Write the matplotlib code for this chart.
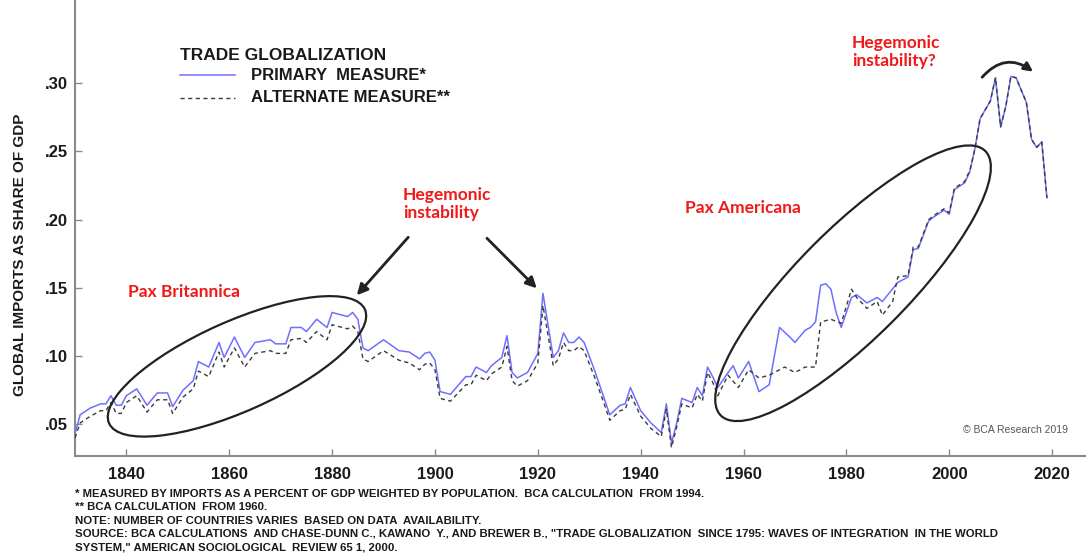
import matplotlib
matplotlib.use("Agg")
import matplotlib.pyplot as plt
from matplotlib.patches import Ellipse
from matplotlib.lines import Line2D
from matplotlib.transforms import ScaledTranslation

# trade globalization: imports as a share of GDP
years_primary = [1830, 1831, 1833, 1835, 1836, 1837, 1838, 1839, 1840, 1842,
                 1844, 1846, 1848, 1849, 1851, 1853, 1854, 1856, 1858, 1859,
                 1861, 1863, 1865, 1868, 1869, 1871, 1872, 1874, 1875, 1877,
                 1879, 1880, 1883, 1884, 1885, 1886, 1887, 1890, 1893, 1895,
                 1897, 1898, 1899, 1900, 1901, 1903, 1906, 1907, 1908, 1910,
                 1911, 1913, 1914, 1915, 1916, 1918, 1920, 1921, 1923, 1924,
                 1925, 1926, 1927, 1928, 1929, 1931, 1933, 1934, 1936, 1937,
                 1938, 1940, 1942, 1944, 1945, 1946, 1947, 1948, 1950, 1951,
                 1952, 1953, 1954, 1955, 1957, 1958, 1959, 1961, 1962, 1963,
                 1965, 1967, 1969, 1970, 1972, 1973, 1974, 1975, 1976, 1977,
                 1978, 1979, 1981, 1982, 1984, 1986, 1987, 1990, 1992, 1993,
                 1994, 1996, 1997, 1999, 2000, 2001, 2003, 2004, 2005, 2006,
                 2008, 2009, 2010, 2011, 2012, 2013, 2015, 2016, 2017, 2018,
                 2019]
primary = [0.043, 0.057, 0.062, 0.065, 0.065, 0.071, 0.064, 0.064, 0.071, 0.076,
           0.064, 0.073, 0.073, 0.063, 0.075, 0.082, 0.096, 0.092, 0.110, 0.099,
           0.114, 0.099, 0.110, 0.112, 0.109, 0.109, 0.121, 0.121, 0.118, 0.127,
           0.121, 0.132, 0.129, 0.132, 0.127, 0.106, 0.104, 0.112, 0.104, 0.103,
           0.098, 0.102, 0.103, 0.097, 0.074, 0.072, 0.085, 0.085, 0.092, 0.088,
           0.093, 0.099, 0.115, 0.088, 0.084, 0.088, 0.102, 0.146, 0.099, 0.104,
           0.117, 0.110, 0.110, 0.114, 0.110, 0.090, 0.068, 0.057, 0.064, 0.065,
           0.077, 0.060, 0.051, 0.044, 0.065, 0.036, 0.051, 0.069, 0.066, 0.077,
           0.071, 0.092, 0.085, 0.077, 0.088, 0.093, 0.084, 0.096, 0.085, 0.074,
           0.079, 0.121, 0.114, 0.110, 0.119, 0.121, 0.125, 0.152, 0.153, 0.149,
           0.132, 0.121, 0.143, 0.145, 0.139, 0.143, 0.140, 0.154, 0.158, 0.178,
           0.179, 0.199, 0.202, 0.207, 0.204, 0.222, 0.227, 0.235, 0.252, 0.274,
           0.287, 0.304, 0.268, 0.283, 0.305, 0.304, 0.286, 0.259, 0.253, 0.257,
           0.216]

years_alt = [1830, 1831, 1833, 1835, 1836, 1837, 1838, 1839, 1840, 1842,
             1844, 1846, 1848, 1849, 1851, 1853, 1854, 1856, 1858, 1859,
             1861, 1863, 1865, 1868, 1869, 1871, 1872, 1874, 1875, 1877,
             1879, 1880, 1883, 1884, 1885, 1886, 1887, 1890, 1893, 1895,
             1897, 1898, 1899, 1900, 1901, 1903, 1906, 1907, 1908, 1910,
             1911, 1913, 1914, 1915, 1916, 1918, 1920, 1921, 1923, 1924,
             1925, 1926, 1927, 1928, 1929, 1931, 1933, 1934, 1936, 1937,
             1938, 1940, 1942, 1944, 1945, 1946, 1947, 1948, 1950, 1951,
             1952, 1953, 1954, 1955, 1957, 1959, 1961, 1963, 1965, 1968,
             1970, 1972, 1974, 1975, 1977, 1979, 1981, 1982, 1984, 1986,
             1987, 1989, 1990, 1992, 1993, 1994, 1996, 1997, 1999, 2000,
             2001, 2003, 2004, 2005, 2006, 2008, 2009, 2010, 2011, 2012,
             2013, 2015, 2016, 2017, 2018, 2019]
alternate = [0.040, 0.051, 0.056, 0.060, 0.060, 0.066, 0.058, 0.058, 0.066, 0.071,
             0.059, 0.068, 0.068, 0.058, 0.070, 0.076, 0.089, 0.085, 0.103, 0.092,
             0.106, 0.092, 0.102, 0.104, 0.102, 0.102, 0.112, 0.113, 0.110, 0.118,
             0.112, 0.123, 0.120, 0.122, 0.118, 0.098, 0.096, 0.104, 0.097, 0.095,
             0.090, 0.094, 0.095, 0.090, 0.069, 0.067, 0.079, 0.079, 0.086, 0.082,
             0.087, 0.092, 0.107, 0.082, 0.078, 0.082, 0.095, 0.137, 0.093, 0.098,
             0.110, 0.104, 0.104, 0.107, 0.104, 0.085, 0.064, 0.053, 0.060, 0.061,
             0.072, 0.056, 0.047, 0.041, 0.061, 0.033, 0.048, 0.065, 0.062, 0.072,
             0.067, 0.088, 0.081, 0.071, 0.086, 0.077, 0.090, 0.084, 0.086, 0.092,
             0.088, 0.092, 0.092, 0.125, 0.127, 0.124, 0.149, 0.143, 0.135, 0.140,
             0.130, 0.140, 0.158, 0.159, 0.180, 0.180, 0.200, 0.203, 0.208, 0.205,
             0.223, 0.228, 0.236, 0.252, 0.274, 0.287, 0.304, 0.268, 0.283, 0.305,
             0.304, 0.286, 0.259, 0.253, 0.257, 0.216]

x_ticks = [1840, 1860, 1880, 1900, 1920, 1940, 1960, 1980, 2000, 2020]
y_ticks = [0.05, 0.10, 0.15, 0.20, 0.25, 0.30]
y_tick_labels = [".05", ".10", ".15", ".20", ".25", ".30"]

footnotes = [
    "* MEASURED BY IMPORTS AS A PERCENT OF GDP WEIGHTED BY POPULATION.  BCA CALCULATION  FROM 1994.",
    "** BCA CALCULATION  FROM 1960.",
    "NOTE: NUMBER OF COUNTRIES VARIES  BASED ON DATA  AVAILABILITY.",
    "SOURCE: BCA CALCULATIONS  AND CHASE-DUNN C., KAWANO  Y., AND BREWER B., \"TRADE GLOBALIZATION  SINCE 1795: WAVES OF INTEGRATION  IN THE WORLD",
    "SYSTEM,\" AMERICAN SOCIOLOGICAL  REVIEW 65 1, 2000.",
]

W, H = 1086, 554
plt.rcParams['font.family'] = ['Liberation Sans', 'DejaVu Sans']
RED_FONT = ['Lato', 'DejaVu Sans']


def fx(px):
    return px / W


def fy(py):
    return 1 - py / H


fig = plt.figure(figsize=(W / 100, H / 100), dpi=100)
ax = fig.add_axes([fx(75), fy(456), 1 - fx(75), 456 / H])

ax.plot(years_primary, primary, color='#6f6fff', lw=1.1, zorder=3)
ax.plot(years_alt, alternate, color='#3a3a3a', lw=1.0, ls=(0, (3, 2.5)), zorder=4)

ax.set_xlim(1830, 2026.6)
ax.set_ylim(0.0268, 0.361)
ax.set_xticks(x_ticks)
ax.set_yticks(y_ticks)
ax.set_yticklabels(y_tick_labels)
for s in ['top', 'right']:
    ax.spines[s].set_visible(False)
for s in ['left', 'bottom']:
    ax.spines[s].set_color('#8a8a8a')
    ax.spines[s].set_linewidth(1.5)
ax.tick_params(direction='in', length=5, width=1, color='#8a8a8a',
               labelsize=12, labelcolor='#1a1a1a')
ax.tick_params(axis='x', pad=8)
ax.tick_params(axis='y', pad=5)
for lab in ax.get_xticklabels() + ax.get_yticklabels():
    lab.set_fontweight('bold')

fig.text(fx(20), fy(255), "GLOBAL IMPORTS AS SHARE OF GDP", rotation=90,
         ha='center', va='center', fontsize=11, fontweight='bold', color='#1a1a1a')


# ellipses sized in inches, centred on a data point
def ring(xc, yc, w, h, ang):
    tr = fig.dpi_scale_trans + ScaledTranslation(xc, yc, ax.transData)
    ax.add_patch(Ellipse((0, 0), w, h, angle=ang, transform=tr, fill=False,
                         ec='#222222', lw=1.6, clip_on=False, zorder=5))


ring(1861.5, 0.0925, 2.8, 0.9, 24)
ring(1981.3, 0.1534, 3.74, 1.1, 45)

arrow = dict(arrowstyle='-|>', color='#222222', lw=2.0, mutation_scale=16,
             shrinkA=0, shrinkB=0)
ax.annotate('', xy=(1884.8, 0.1446), xytext=(1894.8, 0.1871), arrowprops=arrow)
ax.annotate('', xy=(1919.8, 0.1497), xytext=(1910.1, 0.1864), arrowprops=arrow)
ax.annotate('', xy=(2016.3, 0.3085), xytext=(2006.4, 0.3044),
            arrowprops=dict(arrowstyle='-|>', color='#222222', lw=2.0,
                            mutation_scale=13, shrinkA=0, shrinkB=0,
                            connectionstyle='arc3,rad=-0.45'))

# red annotations
red = dict(color='#f01818', fontsize=12.5, fontweight='bold', family=RED_FONT,
           ha='left', va='center', linespacing=1.2)
fig.text(fx(128), fy(292), "Pax Britannica", **red)
fig.text(fx(403), fy(204), "Hegemonic\ninstability", **red)
fig.text(fx(685), fy(208), "Pax Americana", **red)
fig.text(fx(852), fy(52), "Hegemonic\ninstability?", **red)

# legend block
fig.text(fx(180), fy(56), "TRADE GLOBALIZATION", fontsize=12.5, fontweight='bold',
         color='#1a1a1a', va='center')
fig.add_artist(Line2D([fx(180), fx(235)], [fy(75), fy(75)], color='#6f6fff',
                      lw=1.1, transform=fig.transFigure))
fig.add_artist(Line2D([fx(180), fx(235)], [fy(98), fy(98)], color='#3a3a3a',
                      lw=1.0, ls=(0, (3, 2.5)), transform=fig.transFigure))
fig.text(fx(251), fy(75), "PRIMARY  MEASURE*", fontsize=12, fontweight='bold',
         color='#1a1a1a', va='center')
fig.text(fx(251), fy(98), "ALTERNATE MEASURE**", fontsize=12, fontweight='bold',
         color='#1a1a1a', va='center')

fig.text(fx(963), fy(430), "\u00a9 BCA Research 2019", fontsize=7.5,
         color='#555555', va='center')

for i, line in enumerate(footnotes):
    fig.text(fx(75), fy(494 + 13.3 * i), line, fontsize=8.2, fontweight='bold',
             color='#1a1a1a', va='center')

fig.savefig("out.png", dpi=100)
